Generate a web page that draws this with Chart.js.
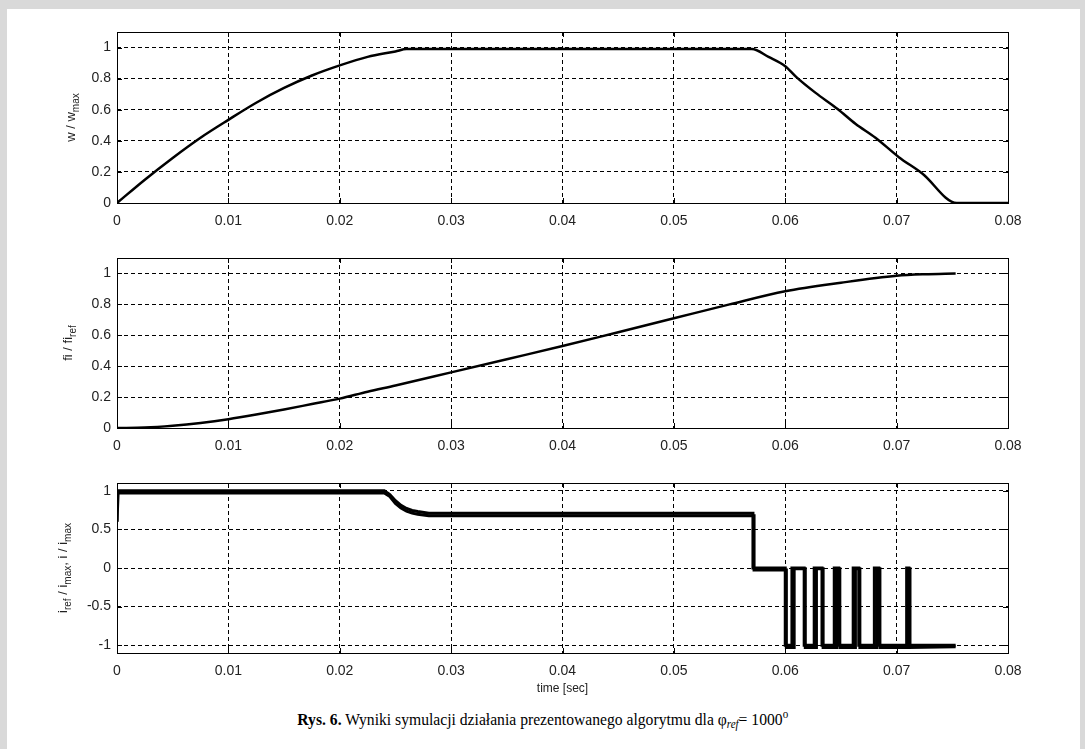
<!DOCTYPE html>
<html>
<head>
<meta charset="utf-8">
<script src="https://cdn.jsdelivr.net/npm/chart.js@4.4.0/dist/chart.umd.min.js"></script>
<style>
html, body { margin: 0; padding: 0; background: #d9d9d9; width: 1085px; height: 749px; overflow: hidden; }
#page { position: absolute; left: 7px; top: 9px; width: 1073px; height: 740px; background: #fff; }
canvas { position: absolute; left: 0; }
#capwrap { position: absolute; left: 0; width: 1085px; top: 707px; text-align: center; }
#cap { display: inline-block; transform: scaleX(0.92); transform-origin: center;
       font-family: "Liberation Serif", "Times New Roman", serif; font-size: 17px; color: #000; }
#cap sub { font-size: 12px; font-style: italic; vertical-align: -3px; }
#cap sup { font-size: 12px; vertical-align: 7px; }
</style>
</head>
<body>
<div id="page"></div>
<canvas id="c1" width="1085" height="230" style="top:0px"></canvas>
<canvas id="c2" width="1085" height="230" style="top:230px"></canvas>
<canvas id="c3" width="1085" height="240" style="top:460px"></canvas>
<div id="capwrap"><span id="cap"><b>Rys. 6.</b> Wyniki symulacji działania prezentowanego algorytmu dla φ<sub>ref</sub>= 1000<sup>o</sup></span></div>

<script>
// osie
const xTicks = [0, 0.01, 0.02, 0.03, 0.04, 0.05, 0.06, 0.07, 0.08];
const xTickLabels = ["0", "0.01", "0.02", "0.03", "0.04", "0.05", "0.06", "0.07", "0.08"];
const yTicksUnit = [0, 0.2, 0.4, 0.6, 0.8, 1];
const yTickLabelsUnit = ["0", "0.2", "0.4", "0.6", "0.8", "1"];
const yTicksCur = [-1, -0.5, 0, 0.5, 1];
const yTickLabelsCur = ["-1", "-0.5", "0", "0.5", "1"];

// predkosc w / w_max
const tSpeed = [0, 0.0025, 0.005, 0.0075, 0.01, 0.0125, 0.015, 0.0175, 0.02, 0.0225, 0.025, 0.026,
                0.057, 0.0585, 0.06, 0.061, 0.0627, 0.0647, 0.0663, 0.0681, 0.0702, 0.0723, 0.0754, 0.08];
const speed = [0, 0.15, 0.29, 0.42, 0.535, 0.645, 0.74, 0.82, 0.885, 0.94, 0.975, 0.99,
               0.99, 0.94, 0.88, 0.81, 0.71, 0.605, 0.51, 0.42, 0.295, 0.19, 0, 0];

// kat fi / fi_ref
const tAngle = [0, 0.0025, 0.005, 0.0075, 0.01, 0.0125, 0.015, 0.0175, 0.02, 0.0225, 0.025, 0.03,
                0.035, 0.04, 0.045, 0.05, 0.055, 0.06, 0.065, 0.07, 0.0725, 0.0753];
const angle = [0, 0.003, 0.015, 0.033, 0.057, 0.087, 0.12, 0.155, 0.19, 0.235, 0.275, 0.36,
               0.445, 0.53, 0.62, 0.71, 0.80, 0.885, 0.94, 0.985, 0.995, 1.0];

// prad zadany i_ref / i_max
const tRef = [0, 0, 0.024, 0.0245, 0.025, 0.0255, 0.026, 0.0265, 0.027, 0.028, 0.0571, 0.0571,
              0.0600, 0.0600, 0.0606, 0.0606, 0.0617, 0.0617, 0.0626, 0.0626, 0.0633, 0.0633,
              0.0644, 0.0644, 0.0648, 0.0648, 0.0661, 0.0661, 0.0666, 0.0666, 0.0680, 0.0680,
              0.0684, 0.0684, 0.0709, 0.0709, 0.0711, 0.0711, 0.0753];
const iRef = [0.6, 1.0, 1.0, 0.95, 0.87, 0.81, 0.77, 0.745, 0.73, 0.71, 0.71, 0,
              0, -1, -1, 0, 0, -1, -1, 0, 0, -1,
              -1, 0, 0, -1, -1, 0, 0, -1, -1, 0,
              0, -1, -1, 0, 0, -1, -1];

// prad zmierzony i / i_max
const tMeas = [0, 0.0001, 0.024, 0.0245, 0.025, 0.0255, 0.026, 0.0265, 0.027, 0.028, 0.0572, 0.0572,
               0.0601, 0.0601, 0.0608, 0.0608, 0.0618, 0.0618, 0.0628, 0.0628, 0.0634, 0.0634,
               0.0646, 0.0646, 0.0649, 0.0649, 0.0663, 0.0663, 0.0667, 0.0667, 0.0682, 0.0682,
               0.0685, 0.0685, 0.0710, 0.0710, 0.0712, 0.0712, 0.0753];
const iMeas = [0.6, 0.97, 0.97, 0.925, 0.835, 0.775, 0.735, 0.71, 0.695, 0.675, 0.675, -0.025,
               -0.025, -1.03, -1.03, -0.01, -0.01, -1.03, -1.03, -0.01, -0.01, -1.03,
               -1.03, -0.01, -0.01, -1.03, -1.03, -0.01, -0.01, -1.03, -1.03, -0.01,
               -0.01, -1.03, -1.03, -0.01, -0.01, -1.03, -1.02];

const toXY = (xs, ys) => xs.map((x, i) => ({ x: x, y: ys[i] }));

// ramka, znaczniki do srodka i opis osi y z indeksami dolnymi
const frame = {
    id: "frame",
    afterDatasetsDraw(chart, args, opts) {
        const { ctx, chartArea: a, scales: { x, y } } = chart;
        ctx.save();
        ctx.strokeStyle = "#000";
        ctx.lineWidth = 1;
        ctx.beginPath();
        x.ticks.forEach(t => {
            const px = Math.round(x.getPixelForValue(t.value)) + 0.5;
            ctx.moveTo(px, a.bottom); ctx.lineTo(px, a.bottom - 5);
            ctx.moveTo(px, a.top); ctx.lineTo(px, a.top + 5);
        });
        y.ticks.forEach(t => {
            const py = Math.round(y.getPixelForValue(t.value)) + 0.5;
            ctx.moveTo(a.left, py); ctx.lineTo(a.left + 5, py);
            ctx.moveTo(a.right, py); ctx.lineTo(a.right - 5, py);
        });
        ctx.stroke();
        ctx.strokeRect(a.left + 0.5, a.top + 0.5, a.right - a.left, a.bottom - a.top);

        // opis osi y
        const parts = opts.parts || [];
        const big = "13px 'Liberation Sans', Arial, sans-serif";
        const small = "10px 'Liberation Sans', Arial, sans-serif";
        let total = 0;
        parts.forEach(p => { ctx.font = p.sub ? small : big; total += ctx.measureText(p.t).width; });
        ctx.translate(opts.x, (a.top + a.bottom) / 2);
        ctx.rotate(-Math.PI / 2);
        ctx.fillStyle = "#222";
        ctx.textBaseline = "alphabetic";
        let cx = -total / 2;
        parts.forEach(p => {
            ctx.font = p.sub ? small : big;
            ctx.fillText(p.t, cx, p.sub ? 4 : 0);
            cx += ctx.measureText(p.t).width;
        });
        ctx.restore();
    }
};

function makeChart(id, datasets, o) {
    return new Chart(document.getElementById(id), {
        type: "line",
        data: { datasets: datasets },
        plugins: [frame],
        options: {
            responsive: false,
            animation: false,
            layout: { padding: { left: 57, right: 77, top: o.top, bottom: 0 } },
            plugins: {
                legend: { display: false },
                tooltip: { enabled: false },
                frame: { parts: o.parts, x: o.titleX }
            },
            elements: { point: { radius: 0 } },
            scales: {
                x: {
                    type: "linear",
                    min: 0,
                    max: 0.08,
                    afterBuildTicks: s => { s.ticks = xTicks.map(v => ({ value: v })); },
                    afterFit: s => { s.height = o.xHeight; },
                    ticks: {
                        callback: (v, i) => xTickLabels[i],
                        color: "#222",
                        padding: 10,
                        maxRotation: 0,
                        autoSkip: false,
                        font: { family: "'Liberation Sans', Arial, sans-serif", size: 14 }
                    },
                    grid: { color: "#000", lineWidth: 1, drawTicks: false },
                    border: { display: false, dash: [4, 3] },
                    title: o.xTitle ? {
                        display: true,
                        text: o.xTitle,
                        color: "#222",
                        padding: { top: 0, bottom: 4 },
                        font: { family: "'Liberation Sans', Arial, sans-serif", size: 12 }
                    } : { display: false }
                },
                y: {
                    type: "linear",
                    min: o.yMin,
                    max: o.yMax,
                    afterBuildTicks: s => { s.ticks = o.yTicks.map(v => ({ value: v })); },
                    afterFit: s => { s.width = 60; },
                    ticks: {
                        callback: (v, i) => o.yLabels[i],
                        color: "#222",
                        padding: 6,
                        font: { family: "'Liberation Sans', Arial, sans-serif", size: 14 }
                    },
                    grid: { color: "#000", lineWidth: 1, drawTicks: false },
                    border: { display: false, dash: [4, 3] }
                }
            }
        }
    });
}

makeChart("c1", [{
    data: toXY(tSpeed, speed),
    borderColor: "#000",
    borderWidth: 2.5,
    cubicInterpolationMode: "monotone"
}], {
    top: 32, xHeight: 27, yMin: 0, yMax: 1.1,
    yTicks: yTicksUnit, yLabels: yTickLabelsUnit,
    titleX: 75,
    parts: [{ t: "w / w" }, { t: "max", sub: true }]
});

makeChart("c2", [{
    data: toXY(tAngle, angle),
    borderColor: "#000",
    borderWidth: 2.5,
    cubicInterpolationMode: "monotone"
}], {
    top: 28, xHeight: 32, yMin: 0, yMax: 1.1,
    yTicks: yTicksUnit, yLabels: yTickLabelsUnit,
    titleX: 72,
    parts: [{ t: "fi / fi" }, { t: "ref", sub: true }]
});

makeChart("c3", [{
    data: toXY(tRef, iRef),
    borderColor: "#000",
    borderWidth: 3,
    tension: 0
}, {
    data: toXY(tMeas, iMeas),
    borderColor: "#000",
    borderWidth: 3,
    tension: 0
}], {
    top: 23, xHeight: 47, yMin: -1.1, yMax: 1.1,
    yTicks: yTicksCur, yLabels: yTickLabelsCur,
    titleX: 67,
    xTitle: "time [sec]",
    parts: [{ t: "i" }, { t: "ref", sub: true }, { t: " / i" }, { t: "max", sub: true },
            { t: ", i / i" }, { t: "max", sub: true }]
});
</script>
</body>
</html>
